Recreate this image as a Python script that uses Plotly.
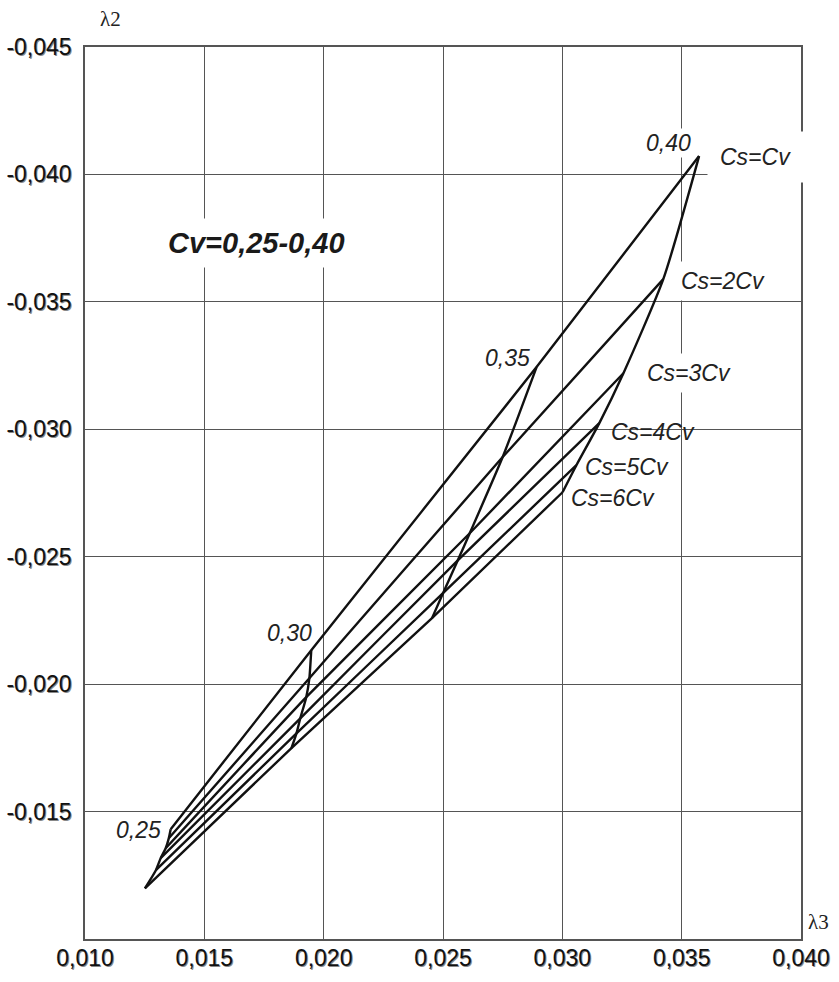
import plotly.graph_objects as go

# ---- data ----
cv_values = [0.25, 0.30, 0.35, 0.40]
cv_labels = ["0,25", "0,30", "0,35", "0,40"]
cs_names = ["Cs=Cv", "Cs=2Cv", "Cs=3Cv", "Cs=4Cv", "Cs=5Cv", "Cs=6Cv"]

# lambda3 (x) and lambda2 (y) for each Cs relation, at Cv = 0.25, 0.30, 0.35, 0.40
lam3_cs1 = [0.01359, 0.01948, 0.02892, 0.03573]
lam2_cs1 = [-0.01431, -0.02133, -0.03244, -0.04072]
lam3_cs2 = [0.01351, 0.01940, 0.02750, 0.03423]
lam2_cs2 = [-0.01395, -0.02023, -0.02891, -0.03589]
lam3_cs3 = [0.01338, 0.01927, 0.02612, 0.03256]
lam2_cs3 = [-0.01356, -0.01949, -0.02592, -0.03220]
lam3_cs4 = [0.01317, 0.01902, 0.02562, 0.03155]
lam2_cs4 = [-0.01317, -0.01866, -0.02486, -0.03024]
lam3_cs5 = [0.01297, 0.01886, 0.02500, 0.03059]
lam2_cs5 = [-0.01270, -0.01807, -0.02357, -0.02859]
lam3_cs6 = [0.01251, 0.01865, 0.02454, 0.03001]
lam2_cs6 = [-0.01199, -0.01749, -0.02259, -0.02753]

x_ticks = [0.010, 0.015, 0.020, 0.025, 0.030, 0.035, 0.040]
x_ticktext = ["0,010", "0,015", "0,020", "0,025", "0,030", "0,035", "0,040"]
y_ticks = [-0.045, -0.040, -0.035, -0.030, -0.025, -0.020, -0.015]
y_ticktext = ["-0,045", "-0,040", "-0,035", "-0,030", "-0,025", "-0,020", "-0,015"]

LAM3 = [lam3_cs1, lam3_cs2, lam3_cs3, lam3_cs4, lam3_cs5, lam3_cs6]
LAM2 = [lam2_cs1, lam2_cs2, lam2_cs3, lam2_cs4, lam2_cs5, lam2_cs6]

# ---- figure ----
W, H = 839, 982
ML, MR, MT, MB = 85, 38, 47, 43
PW, PH = W - ML - MR, H - MT - MB


def px(x):
    return (x - ML) / PW


def py(y):
    return (H - MB - y) / PH


fig = go.Figure()
LINE = dict(color="#111111", width=2.4)

for name, xs, ys in zip(cs_names, LAM3, LAM2):
    fig.add_trace(go.Scatter(x=xs, y=ys, mode="lines", name=name,
                             line=dict(**LINE, shape="spline", smoothing=0.3),
                             showlegend=False, hoverinfo="skip"))

for j, cv in enumerate(cv_values):
    xs = [col[j] for col in LAM3]
    ys = [col[j] for col in LAM2]
    fig.add_trace(go.Scatter(x=xs, y=ys, mode="lines", name=f"Cv={cv}",
                             line=dict(**LINE, shape="spline", smoothing=0.6),
                             showlegend=False, hoverinfo="skip"))

SANS = "Arial, Liberation Sans, sans-serif"
lab_font = dict(family=SANS, size=23, color="#222222", style="italic")


def label(txt, x, y, font, bg=None, pad=1):
    return dict(text=txt, x=px(x), y=py(y), xref="paper", yref="paper",
                xanchor="center", yanchor="middle", showarrow=False,
                font=font, bgcolor=bg, borderpad=pad)


annots = []
# Cv value labels
for txt, (x, y) in zip(cv_labels, [(138, 830), (289, 633), (507, 358), (668, 143)]):
    annots.append(label(txt, x, y, lab_font, "white" if txt == "0,40" else None, 1))
# Cs relation labels
cs_pos = [(755, 157), (723, 281), (689, 373), (653, 432), (627, 467), (613, 498)]
cs_pad = [12, 6, 6, 0, 0, 0]
for k, (txt, (x, y)) in enumerate(zip(cs_names, cs_pos)):
    annots.append(label(txt, x, y, lab_font, "white" if k < 3 else None, cs_pad[k]))
annots.append(label("<b><i>Cv=0,25-0,40</i></b>", 256, 243,
                    dict(family=SANS, size=29, color="#1a1a1a"), "white", 8))
serif = dict(family="Liberation Serif, Times New Roman, serif", size=21, color="#222222")
annots.append(label("λ2", 110, 19, serif))
annots.append(label("λ3", 818, 922, serif))

tick_font = dict(family=SANS, size=23, color="#111111", shadow="1px 1px 0px #888888")

fig.update_layout(
    width=W, height=H,
    margin=dict(l=ML, r=MR, t=MT, b=MB, pad=0, autoexpand=False),
    paper_bgcolor="white", plot_bgcolor="white",
    annotations=annots,
    xaxis=dict(range=[0.010, 0.040], tickvals=x_ticks, ticktext=x_ticktext,
               automargin=False,
               showgrid=True, gridcolor="#555555", gridwidth=1,
               showline=True, linecolor="#555555", linewidth=1.5, mirror=True,
               ticks="outside", ticklen=1, tickcolor="rgba(0,0,0,0)",
               ticklabelstandoff=-3,
               tickfont=tick_font, zeroline=False),
    yaxis=dict(range=[-0.010, -0.045], tickvals=y_ticks, ticktext=y_ticktext,
               automargin=False,
               showgrid=True, gridcolor="#555555", gridwidth=1,
               showline=True, linecolor="#555555", linewidth=1.5, mirror=True,
               ticks="outside", ticklen=7, tickcolor="rgba(0,0,0,0)",
               tickfont=tick_font, zeroline=False),
)

fig.write_html(
    "out.html",
    config={"displayModeBar": False},
    post_script="document.body.style.margin='0';document.body.style.overflow='hidden';",
)
